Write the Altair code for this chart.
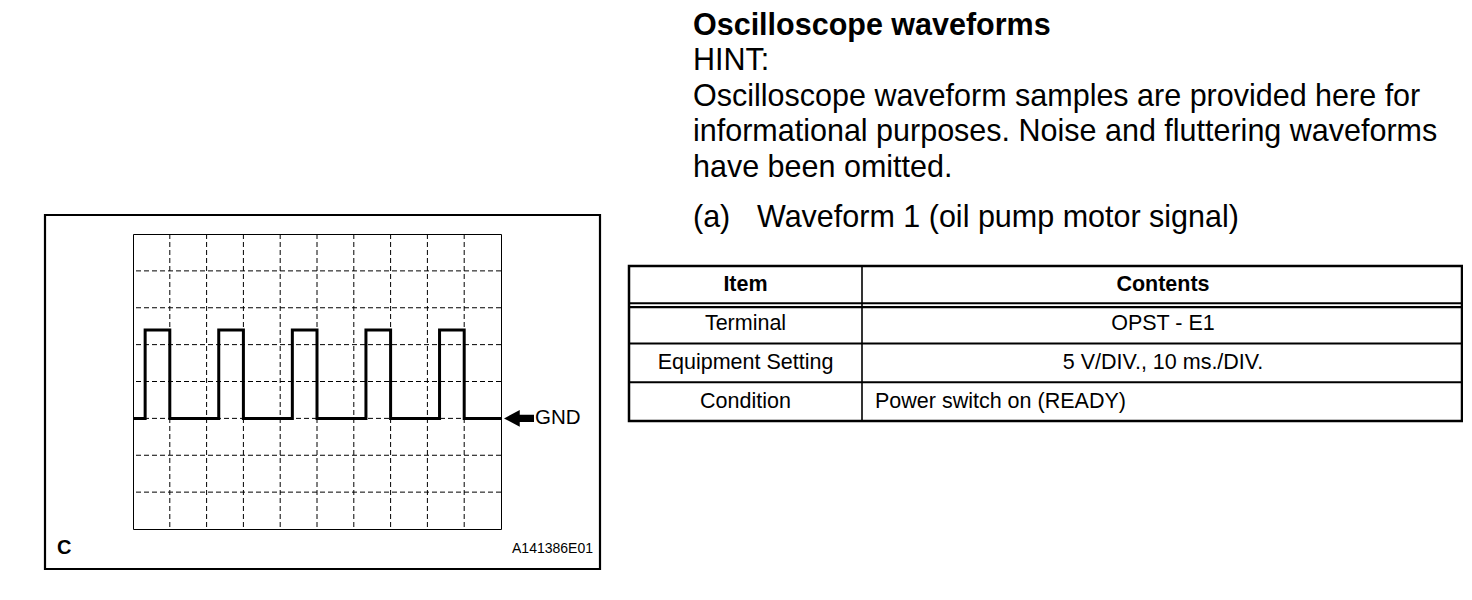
import altair as alt
import pandas as pd

# ---------------- data ----------------
time_ticks = [10, 20, 30, 40, 50, 60, 70, 80, 90]          # ms, 10 ms/DIV
volt_ticks = [-10, -5, 0, 5, 10, 15, 20]                    # V, 5 V/DIV
wave_t = [0, 3.3, 10, 23.3, 30, 43.3, 50, 63.3, 70, 83.3, 90, 100]
wave_v = [0, 12, 0, 12, 0, 12, 0, 12, 0, 12, 0, 0]

rows = ["Item", "Terminal", "Equipment Setting", "Condition"]
contents = ["Contents", "OPST - E1", "5 V/DIV., 10 ms./DIV.", "Power switch on (READY)"]

title_text = "Oscilloscope waveforms"
para_lines = [
    "HINT:",
    "Oscilloscope waveform samples are provided here for",
    "informational purposes. Noise and fluttering waveforms",
    "have been omitted.",
]
sub_label = "(a)"
sub_text = "Waveform 1 (oil pump motor signal)"
corner_label = "C"
figure_id = "A141386E01"
gnd_label = "GND"

FONT = "Liberation Sans"
one = pd.DataFrame({"k": [0]})

# ---------------- oscilloscope ----------------
xs = alt.Scale(domain=[0, 100])
ys = alt.Scale(domain=[-15, 25])

vgrid = alt.Chart(pd.DataFrame({"t": time_ticks})).mark_rule(
    color="black", strokeWidth=1, strokeDash=[5, 3]
).encode(x=alt.X("t:Q", scale=xs, axis=None))

hgrid = alt.Chart(pd.DataFrame({"v": volt_ticks})).mark_rule(
    color="black", strokeWidth=1, strokeDash=[5, 3]
).encode(y=alt.Y("v:Q", scale=ys, axis=None))

wave = alt.Chart(pd.DataFrame({"t": wave_t, "v": wave_v})).mark_line(
    interpolate="step-after", color="black", strokeWidth=3
).encode(
    x=alt.X("t:Q", scale=xs, axis=None),
    y=alt.Y("v:Q", scale=ys, axis=None),
)

ARROW = "M-1,0L0.05,-0.56L0.05,-0.24L1,-0.24L1,0.24L0.05,0.24L0.05,0.56Z"
arrow = alt.Chart(one).mark_point(
    shape=ARROW, size=900, filled=True, color="black", opacity=1, strokeWidth=0
).encode(x=alt.value(386), y=alt.YDatum(0, scale=ys, axis=None))

gnd = alt.Chart(one).mark_text(
    align="left", baseline="middle", fontSize=20.5, font=FONT, color="black"
).encode(x=alt.value(402), y=alt.YDatum(0, scale=ys, axis=None), text=alt.value(gnd_label))

scope = alt.layer(vgrid, hgrid, wave, arrow, gnd)

# ---------------- table ----------------
tdf = pd.DataFrame({"row": rows, "contents": contents, "i": list(range(len(rows)))})
ty = alt.Scale(domain=rows, range=[32, 187], paddingInner=0, paddingOuter=0)

def Yrow(**kw):
    return alt.Y("row:N", scale=ty, axis=None, **kw)

tbase = alt.Chart(tdf)
txt = dict(fontSize=21.5, font=FONT, color="black", baseline="middle")

head1 = tbase.transform_filter("datum.i == 0").mark_text(fontWeight="bold", **txt).encode(
    y=Yrow(), x=alt.value(612.5), text="row:N")
head2 = tbase.transform_filter("datum.i == 0").mark_text(fontWeight="bold", **txt).encode(
    y=Yrow(), x=alt.value(1030), text="contents:N")
body1 = tbase.transform_filter("datum.i > 0").mark_text(**txt).encode(
    y=Yrow(), x=alt.value(612.5), text="row:N")
body2 = tbase.transform_filter("datum.i > 0 && datum.i < 3").mark_text(**txt).encode(
    y=Yrow(), x=alt.value(1030), text="contents:N")
body3 = tbase.transform_filter("datum.i == 3").mark_text(align="left", **txt).encode(
    y=Yrow(), x=alt.value(742), text="contents:N")

single_lines = tbase.transform_filter("datum.i >= 2").mark_rule(
    color="black", strokeWidth=1.8).encode(
    y=Yrow(bandPosition=0), x=alt.value(496), x2=alt.value(1329))
dbl_a = tbase.transform_filter("datum.i == 1").mark_rule(
    color="black", strokeWidth=2.2, yOffset=-1.5).encode(
    y=Yrow(bandPosition=0), x=alt.value(496), x2=alt.value(1329))
dbl_b = tbase.transform_filter("datum.i == 1").mark_rule(
    color="black", strokeWidth=2.2, yOffset=2.4).encode(
    y=Yrow(bandPosition=0), x=alt.value(496), x2=alt.value(1329))

table = alt.layer(single_lines, dbl_a, dbl_b, head1, head2, body1, body2, body3)

col_div = alt.Chart(one).mark_rule(color="black", strokeWidth=1.6).encode(
    x=alt.value(729), y=alt.value(32), y2=alt.value(187))
table_box = alt.Chart(one).mark_rect(fillOpacity=0, stroke="black", strokeWidth=2.5).encode(
    x=alt.value(496), x2=alt.value(1329), y=alt.value(32), y2=alt.value(187))

# ---------------- decorations / text ----------------
outer_box = alt.Chart(one).mark_rect(fillOpacity=0, stroke="black", strokeWidth=2.2).encode(
    x=alt.value(-88), x2=alt.value(467), y=alt.value(-19), y2=alt.value(335))

title = alt.Chart(one).mark_text(
    align="left", baseline="alphabetic", fontSize=30.5, fontWeight="bold", font=FONT, color="black"
).encode(x=alt.value(560), y=alt.value(-199), text=alt.value(title_text))

para = alt.Chart(one).mark_text(
    align="left", baseline="alphabetic", fontSize=30.5, font=FONT, color="black", lineHeight=35.7
).encode(x=alt.value(560), y=alt.value(-164), text=alt.value(para_lines))

sub_a = alt.Chart(one).mark_text(
    align="left", baseline="alphabetic", fontSize=30.5, font=FONT, color="black"
).encode(x=alt.value(560), y=alt.value(-7), text=alt.value(sub_label))
sub_b = alt.Chart(one).mark_text(
    align="left", baseline="alphabetic", fontSize=30.5, font=FONT, color="black"
).encode(x=alt.value(624), y=alt.value(-7), text=alt.value(sub_text))

corner = alt.Chart(one).mark_text(
    align="left", baseline="middle", fontSize=20, fontWeight="bold", font=FONT, color="black"
).encode(x=alt.value(-76), y=alt.value(314), text=alt.value(corner_label))
fig_id = alt.Chart(one).mark_text(
    align="right", baseline="middle", fontSize=14, font=FONT, color="black"
).encode(x=alt.value(460), y=alt.value(315), text=alt.value(figure_id))

chart = alt.layer(
    scope, table, col_div, table_box, outer_box, title, para, sub_a, sub_b, corner, fig_id
).resolve_scale(
    x="independent", y="independent"
).properties(
    width=368, height=295,
    autosize=alt.AutoSizeParams(type="none"),
    padding={"left": 125, "top": 226, "right": 962, "bottom": 55},
).configure_view(stroke="black", strokeWidth=1)

chart.save("out.html", embed_options={"renderer": "svg", "actions": False})
